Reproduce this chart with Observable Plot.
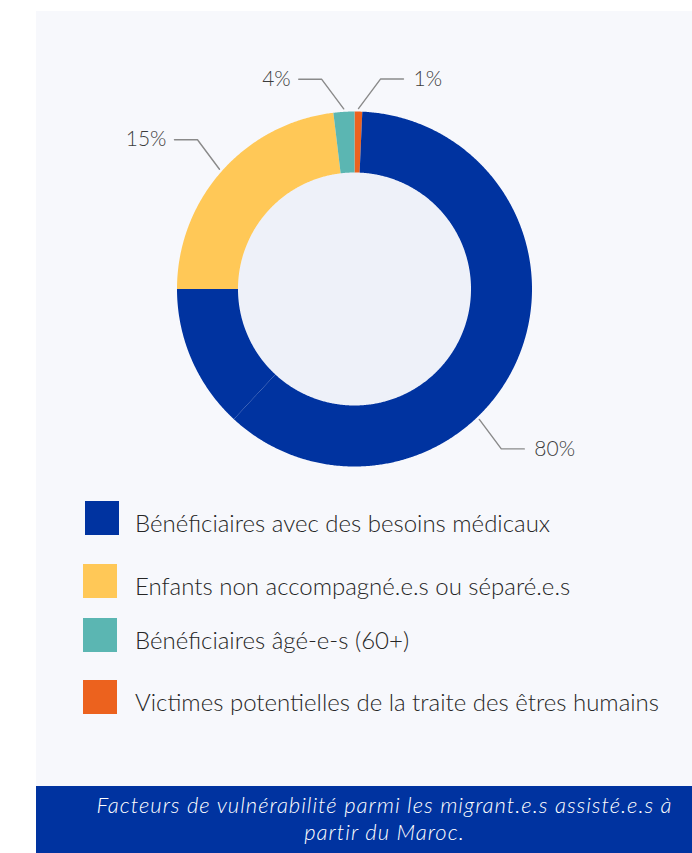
<!DOCTYPE html>
<html>
<head>
<meta charset="utf-8">
<script src="https://cdn.jsdelivr.net/npm/d3@7"></script>
<script src="https://cdn.jsdelivr.net/npm/@observablehq/plot@0.6"></script>
<style>
  html, body { margin: 0; padding: 0; background: #ffffff; }
  body { width: 692px; height: 853px; position: relative; overflow: hidden;
         font-family: Lato, "Open Sans", sans-serif; }
  #panel { position: absolute; left: 36px; top: 11px; width: 656px; height: 775px; background: #f7f8fc; }
  #chart { position: absolute; left: 0; top: 0; }
  #legend { position: absolute; left: 47px; top: 0; width: 609px; }
  .row { position: absolute; left: 0; display: flex; align-items: center; height: 34px; }
  .sw { width: 34px; height: 34px; flex: none; }
  .lab { margin-left: 18px; font-size: 24px; font-weight: 300; color: #262626; white-space: nowrap;
         position: relative; top: 4px; }
  .row.first .sw { margin-left: 2px; }
  .row.first .lab { margin-left: 16px; }
  #footer { position: absolute; left: 36px; top: 786px; width: 656px; height: 67px; background: #0033a0;
            color: #ffffff; font-style: italic; font-weight: 300; font-size: 22px; line-height: 27px;
            letter-spacing: 1px; text-align: center; box-sizing: border-box; padding: 5px 0 0 41px;
            white-space: nowrap; }
</style>
</head>
<body>
<div id="panel">
  <div id="chart"></div>
  <div id="legend"></div>
</div>
<div id="footer">Facteurs de vulnérabilité parmi les migrant.e.s assisté.e.s à<br>partir du Maroc.</div>
<script>
// ---- data ----
const categories = [
  "Bénéficiaires avec des besoins médicaux",
  "Enfants non accompagné.e.s ou séparé.e.s",
  "Bénéficiaires âgé-e-s (60+)",
  "Victimes potentielles de la traite des êtres humains"
];
const shareLabels = ["80%", "15%", "4%", "1%"];
const colors = ["#0033a0", "#ffc857", "#5bb6b2", "#ec621e"];
// arcs as drawn in the picture, clockwise from 12 o'clock (share of full circle, %)
const arcCategory = [3, 0, 0, 1, 2];
const arcShare = [0.7, 61.2, 13.1, 23.1, 1.9];

// ---- geometry helpers (layout constants) ----
const R_OUT = 177.5, R_IN = 116.5;
const TAU = Math.PI * 2;
const total = d3.sum(arcShare);
let acc = 0;
const arcs = arcShare.map((v, i) => {
  const a0 = acc / total * TAU; acc += v; const a1 = acc / total * TAU;
  return { i, cat: arcCategory[i], a0, a1 };
});
const slicePts = [];
for (const a of arcs) {
  const n = Math.max(2, Math.ceil((a.a1 - a.a0) / (0.4 * Math.PI / 180)));
  for (let k = 0; k <= n; k++) {
    const t = a.a0 + (a.a1 - a.a0) * k / n;
    slicePts.push({ z: a.i, x: R_OUT * Math.sin(t), y: R_OUT * Math.cos(t), c: colors[a.cat] });
  }
  for (let k = n; k >= 0; k--) {
    const t = a.a0 + (a.a1 - a.a0) * k / n;
    slicePts.push({ z: a.i, x: R_IN * Math.sin(t), y: R_IN * Math.cos(t), c: colors[a.cat] });
  }
}
// label anchors at the middle of each category's arc span
const labels = categories.map((c, ci) => {
  const mine = arcs.filter(a => a.cat === ci);
  const mid = (d3.min(mine, a => a.a0) + d3.max(mine, a => a.a1)) / 2;
  const r = R_OUT + 3;
  const ax = r * Math.sin(mid), ay = r * Math.cos(mid);
  const sx = Math.sin(mid) >= 0 ? 1 : -1, sy = Math.cos(mid) >= 0 ? 1 : -1;
  const ex = ax + sx * 22, ey = ay + sy * 29.5;
  return { ci, label: shareLabels[ci], side: sx, pts: [[ax, ay], [ex, ey], [ex + sx * 23, ey]] };
});
const leaderPts = labels.flatMap(l => l.pts.map(([x, y]) => ({ z: l.ci, x, y })));
const textPts = labels.map(l => ({ x: l.pts[2][0], y: l.pts[2][1], label: l.label, side: l.side }));

const txt = { x: "x", y: "y", text: "label", fontSize: 21, fontWeight: 300, fill: "#3d3d3d",
              fontFamily: "Lato, 'Open Sans', sans-serif" };
const chart = Plot.plot({
  width: 656, height: 480, margin: 0,
  x: { domain: [-318, 338], axis: null },
  y: { domain: [-202.5, 277.5], axis: null },
  color: { type: "identity" },
  style: { background: "transparent", overflow: "visible" },
  marks: [
    Plot.dot([0], { x: () => 0, y: () => 0, r: R_IN, fill: "#eef1f9", stroke: "none" }),
    Plot.line(slicePts, { x: "x", y: "y", z: "z", fill: "c", stroke: "none", curve: "linear" }),
    Plot.line(leaderPts, { x: "x", y: "y", z: "z", stroke: "#8a8a8a", strokeWidth: 1.4, curve: "linear" }),
    Plot.text(textPts.filter(d => d.side > 0), { ...txt, textAnchor: "start", dx: 10 }),
    Plot.text(textPts.filter(d => d.side < 0), { ...txt, textAnchor: "end", dx: -8 })
  ]
});
document.getElementById("chart").appendChild(chart);

// legend
const rowTops = [490, 553, 607, 669];
const legend = document.getElementById("legend");
categories.forEach((c, i) => {
  const row = document.createElement("div");
  row.className = "row" + (i === 0 ? " first" : "");
  row.style.top = rowTops[i] + "px";
  row.innerHTML = `<div class="sw" style="background:${colors[i]}"></div><div class="lab">${c}</div>`;
  legend.appendChild(row);
});
</script>
</body>
</html>
